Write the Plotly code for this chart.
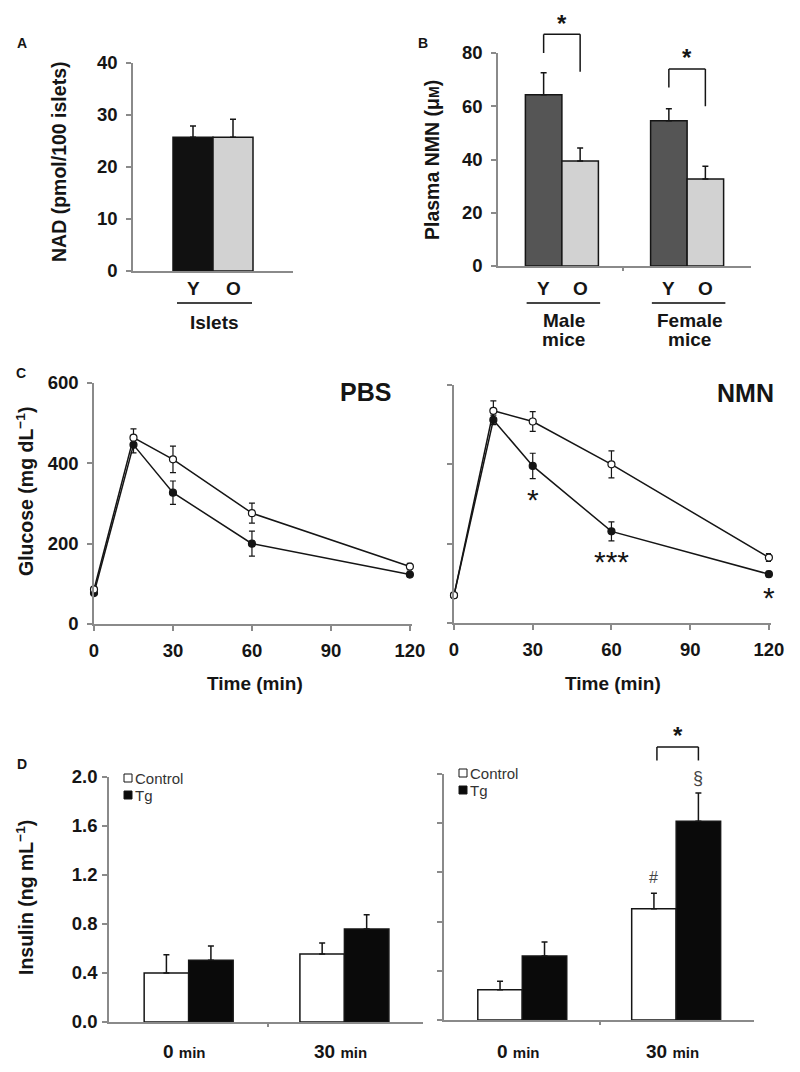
import plotly.graph_objects as go

W, H = 800, 1072
OFF = 8  # the page body adds an 8px margin; compensate so pixel targets land right
FONT = "Arial, Liberation Sans, Helvetica, sans-serif"
INK = "#151515"
AXC = "#8a8a8a"

# ---------------- data ----------------
# Panel A: islet NAD
nad_groups = ["Y", "O"]
nad_values = [25.7, 25.7]
nad_errors = [2.2, 3.5]

# Panel B: plasma NMN
nmn_sex = [["Male", "mice"], ["Female", "mice"]]
nmn_young = [64.3, 54.6]
nmn_young_err = [8.3, 4.5]
nmn_old = [39.4, 32.7]
nmn_old_err = [4.9, 4.8]
bracket_top = [87.0, 74.0]
bracket_left_end = [80.0, 67.0]
bracket_right_end = [73.0, 60.0]

# Panel C: glucose tolerance
gtt_time = [0, 15, 30, 60, 120]
pbs_control = [86, 464, 410, 276, 143]
pbs_control_err = [5, 22, 33, 25, 8]
pbs_tg = [77, 446, 327, 200, 123]
pbs_tg_err = [5, 20, 29, 31, 6]
nmn_control = [70, 535, 508, 400, 165]
nmn_control_err = [4, 25, 25, 34, 10]
nmn_tg = [70, 512, 396, 231, 123]
nmn_tg_err = [4, 12, 32, 24, 7]
nmn_tg_sig = ["", "", "*", "***", "*"]
gtt_ticks = [0, 30, 60, 90, 120]

# Panel D: insulin
ins_times = ["0", "30"]
ins_pbs_control = [0.40, 0.555]
ins_pbs_control_err = [0.15, 0.09]
ins_pbs_tg = [0.505, 0.76]
ins_pbs_tg_err = [0.115, 0.115]
ins_nmn_control = [0.245, 0.905]
ins_nmn_control_err = [0.07, 0.125]
ins_nmn_tg = [0.52, 1.615]
ins_nmn_tg_err = [0.115, 0.23]
ins_nmn_marks_control = ["", "#"]
ins_nmn_marks_tg = ["", "§"]
ins_bracket = [2.22, 2.11]

# ---------------- geometry (pixels) ----------------
P = {
    "A": dict(x0=133, x1=293, yb=271, yt=63, xr=(0, 4.0), yr=(0, 40), ids=("x", "y")),
    "B": dict(x0=498, x1=751, yb=266, yt=53, xr=(0, 6.93), yr=(0, 80), ids=("x2", "y2")),
    "C1": dict(x0=94, x1=412, yb=624, yt=383, xr=(0, 120.8), yr=(0, 600), ids=("x3", "y3")),
    "C2": dict(x0=454, x1=771, yb=623, yt=385, xr=(0, 120.8), yr=(0, 600), ids=("x4", "y4")),
    "D1": dict(x0=109, x1=423, yb=1022, yt=777, xr=(0, 7.056), yr=(0, 2.0), ids=("x5", "y5")),
    "D2": dict(x0=444, x1=754, yb=1020, yt=774, xr=(0, 6.97), yr=(0, 2.0), ids=("x6", "y6")),
}


def fx(px):
    return (px - OFF) / W


def fy(py):
    return 1 - (py - OFF) / H


def dx(p, v):
    g = P[p]
    return g["x0"] + (v - g["xr"][0]) / (g["xr"][1] - g["xr"][0]) * (g["x1"] - g["x0"])


def dy(p, v):
    g = P[p]
    return g["yb"] - (v - g["yr"][0]) / (g["yr"][1] - g["yr"][0]) * (g["yb"] - g["yt"])


fig = go.Figure()
annotations = []
shapes = []


def ann(text, x, y, size=16, bold=True, angle=0, xanchor="center", yanchor="middle", color=INK):
    annotations.append(dict(
        text=text, x=fx(x), y=fy(y), xref="paper", yref="paper",
        showarrow=False, textangle=angle, xanchor=xanchor, yanchor=yanchor,
        font=dict(family=FONT, size=size, color=color, weight="bold" if bold else "normal"),
    ))


def line(x0, y0, x1, y1, color=INK, width=1.5):
    shapes.append(dict(type="line", xref="paper", yref="paper",
                       x0=fx(x0), y0=fy(y0), x1=fx(x1), y1=fy(y1),
                       line=dict(color=color, width=width)))


def rect(cx, cy, s, fill):
    shapes.append(dict(type="rect", xref="paper", yref="paper",
                       x0=fx(cx - s / 2), x1=fx(cx + s / 2),
                       y0=fy(cy + s / 2), y1=fy(cy - s / 2),
                       line=dict(color=INK, width=1), fillcolor=fill))


def bar(p, xs, ys, errs, color):
    xa, ya = P[p]["ids"]
    fig.add_trace(go.Bar(
        x=xs, y=ys, width=1.0, xaxis=xa, yaxis=ya, showlegend=False,
        marker=dict(color=color, line=dict(color=INK, width=1.5)),
        error_y=dict(type="data", array=errs, arrayminus=[0] * len(errs), symmetric=False,
                     color=INK, thickness=1.5, width=3),
    ))


def curve(p, ys, errs, fill):
    xa, ya = P[p]["ids"]
    fig.add_trace(go.Scatter(
        x=gtt_time, y=ys, xaxis=xa, yaxis=ya, mode="lines+markers", showlegend=False,
        cliponaxis=False,
        line=dict(color=INK, width=1.5),
        marker=dict(size=7, color=fill, line=dict(color=INK, width=1.2)),
        error_y=dict(type="data", array=errs, color=INK, thickness=1.2, width=3),
    ))


TITLE = 19.5
LAB = 19

# ---------------- Panel A ----------------
a_pos = [1.5 + i for i in range(len(nad_groups))]
bar("A", [a_pos[0]], [nad_values[0]], [nad_errors[0]], "#111111")
bar("A", [a_pos[1]], [nad_values[1]], [nad_errors[1]], "#d2d2d2")
for lab, xp in zip(nad_groups, a_pos):
    ann(lab, dx("A", xp), 288, size=LAB)
line(dx("A", a_pos[0]) - 16, 303, dx("A", a_pos[1]) + 19, 303, color="#444", width=2)
ann("Islets", (dx("A", a_pos[0]) + dx("A", a_pos[1])) / 2 + 2, 322, size=LAB)
ann("A", 22, 43, size=14)
ann("NAD (pmol/100 islets)", 59, 162, size=TITLE, angle=-90)

# ---------------- Panel B ----------------
b_groups = [1.75, 5.18]
b_young_pos = [g - 0.5 for g in b_groups]
b_old_pos = [g + 0.5 for g in b_groups]
bar("B", b_young_pos, nmn_young, nmn_young_err, "#555555")
bar("B", b_old_pos, nmn_old, nmn_old_err, "#d2d2d2")
for i, sex in enumerate(nmn_sex):
    xy, xo = dx("B", b_young_pos[i]), dx("B", b_old_pos[i])
    ann("Y", xy, 288, size=LAB)
    ann("O", xo, 288, size=LAB)
    line(xy - 17, 303, xo + 20, 303, color="#444", width=2)
    ann(sex[0], (xy + xo) / 2 + 2, 320, size=LAB)
    ann(sex[1], (xy + xo) / 2 + 2, 340, size=LAB)
    # significance bracket
    yt = dy("B", bracket_top[i])
    line(xy, dy("B", bracket_left_end[i]), xy, yt)
    line(xy, yt, xo, yt)
    line(xo, yt, xo, dy("B", bracket_right_end[i]))
    ann("*", (xy + xo) / 2, yt - 11, size=24)
ann("B", 423, 43, size=14)
ann("Plasma NMN (μ<span style='font-size:14px'>M</span>)", 432, 160, size=TITLE, angle=-90)

# ---------------- Panel C ----------------
curve("C1", pbs_tg, pbs_tg_err, INK)
curve("C1", pbs_control, pbs_control_err, "white")
curve("C2", nmn_tg, nmn_tg_err, INK)
curve("C2", nmn_control, nmn_control_err, "white")
for t, v, e, s in zip(gtt_time, nmn_tg, nmn_tg_err, nmn_tg_sig):
    if s:
        ann(s, dx("C2", t), dy("C2", v - e) + 21, size=30, bold=False)
ann("PBS", 365, 392, size=25)
ann("NMN", 745, 393, size=25)
ann("Time (min)", 255, 683, size=LAB)
ann("Time (min)", 613, 683, size=LAB)
ann("C", 21, 373, size=14)
ann("Glucose (mg dL<sup>−1</sup>)", 25, 492, size=TITLE, angle=-90)

# ---------------- Panel D ----------------
d_groups = {"D1": [1.79, 5.29], "D2": [1.76, 5.22]}
for p, ctrl, ctrl_e, tg, tg_e in [
    ("D1", ins_pbs_control, ins_pbs_control_err, ins_pbs_tg, ins_pbs_tg_err),
    ("D2", ins_nmn_control, ins_nmn_control_err, ins_nmn_tg, ins_nmn_tg_err),
]:
    gs = d_groups[p]
    bar(p, [g - 0.5 for g in gs], ctrl, ctrl_e, "white")
    bar(p, [g + 0.5 for g in gs], tg, tg_e, "#0a0a0a")
    for g, t in zip(gs, ins_times):
        ann(f"{t} <span style='font-size:15px'>min</span>", dx(p, g) - 4, 1051, size=LAB)

# legend boxes
for p, bx, by in [("D1", 128, 778), ("D2", 463, 773)]:
    rect(bx, by, 8, "white")
    rect(bx, by + 17, 8, "#0a0a0a")
    ann("Control", bx + 5, by, size=15, bold=False, xanchor="left", color="#333")
    ann("Tg", bx + 5, by + 17, size=15, bold=False, xanchor="left", color="#333")

# marks on NMN insulin panel
g2 = d_groups["D2"]
for i in range(len(ins_times)):
    if ins_nmn_marks_control[i]:
        ann(ins_nmn_marks_control[i], dx("D2", g2[i] - 0.5), dy("D2", ins_nmn_control[i] + ins_nmn_control_err[i]) - 16,
            size=16, bold=False, color="#444")
    if ins_nmn_marks_tg[i]:
        ann(ins_nmn_marks_tg[i], dx("D2", g2[i] + 0.5), dy("D2", ins_nmn_tg[i] + ins_nmn_tg_err[i]) - 15,
            size=18, bold=False, color="#444")
xl = dx("D2", g2[1] - 0.5) + 3
xr = dx("D2", g2[1] + 0.5)
ytop = dy("D2", ins_bracket[0])
yleg = dy("D2", ins_bracket[1])
line(xl, yleg, xl, ytop)
line(xl, ytop, xr, ytop)
line(xr, ytop, xr, yleg)
ann("*", (xl + xr) / 2, ytop - 11, size=24)
ann("D", 22, 764, size=14)
ann("Insulin (ng mL<sup>−1</sup>)", 25, 898, size=TITLE, angle=-90)

# ---------------- axes ----------------
layout_axes = {}
tick_cfg = {
    "A": dict(yt=[0, 10, 20, 30, 40], yfmt=None, xt=[], ylab=True, ysoff=5),
    "B": dict(yt=[0, 20, 40, 60, 80], yfmt=None, xt=[3.42], ylab=True, ysoff=5),
    "C1": dict(yt=[0, 200, 400, 600], yfmt=None, xt=gtt_ticks, ylab=True, ysoff=5),
    "C2": dict(yt=[0, 200, 400, 600], yfmt=None, xt=gtt_ticks, ylab=False, ysoff=5),
    "D1": dict(yt=[0, 0.4, 0.8, 1.2, 1.6, 2.0], yfmt=".1f", xt=[3.57], ylab=True, ysoff=1),
    "D2": dict(yt=[0, 0.4, 0.8, 1.2, 1.6, 2.0], yfmt=".1f", xt=[3.51], ylab=False, ysoff=1),
}
TICKFONT = dict(family=FONT, size=18.5, color=INK, weight="bold")
for p, g in P.items():
    xa, ya = g["ids"]
    xkey = "xaxis" + xa[1:]
    ykey = "yaxis" + ya[1:]
    c = tick_cfg[p]
    is_c = p.startswith("C")
    layout_axes[xkey] = dict(
        domain=[fx(g["x0"]), fx(g["x1"])], range=list(g["xr"]), anchor=ya, automargin=False,
        showline=True, linecolor=AXC, linewidth=1.5, showgrid=False, zeroline=False,
        tickmode="array", tickvals=c["xt"], ticks="outside" if c["xt"] else "",
        ticklen=5 if is_c else 3, tickcolor=AXC, tickwidth=1.5,
        showticklabels=is_c, ticklabelstandoff=4, tickfont=TICKFONT,
    )
    layout_axes[ykey] = dict(
        domain=[fy(g["yb"]), fy(g["yt"])], range=list(g["yr"]), anchor=xa, automargin=False,
        showline=True, linecolor=AXC, linewidth=1.5, showgrid=False, zeroline=False,
        tickmode="array", tickvals=c["yt"], ticks="outside", ticklen=5, tickcolor=AXC, tickwidth=1.5,
        showticklabels=c["ylab"], tickformat=c["yfmt"], ticklabelstandoff=c["ysoff"],
        tickfont=TICKFONT,
    )

fig.update_layout(
    template="none",
    width=W, height=H, margin=dict(l=0, r=0, t=0, b=0, pad=0),
    paper_bgcolor="white", plot_bgcolor="white",
    barmode="overlay", showlegend=False,
    font=dict(family=FONT, color=INK),
    annotations=annotations, shapes=shapes,
    **layout_axes,
)

fig.write_html("out.html")
